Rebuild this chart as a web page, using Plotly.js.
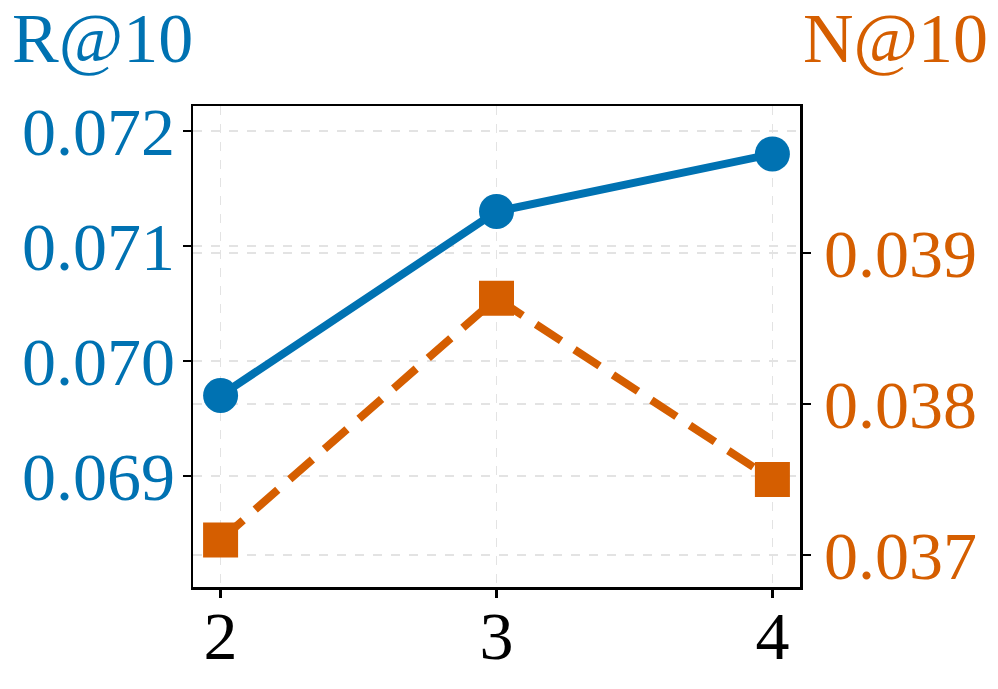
<!DOCTYPE html>
<html>
<head>
<meta charset="utf-8">
<script src="https://cdn.plot.ly/plotly-3.0.1.min.js"></script>
<style>
  html, body { margin: 0; padding: 0; background: #fff; }
  #chart { width: 998px; height: 689px; }
</style>
</head>
<body>
<div id="chart"></div>
<script>
// values
var xVals = [2, 3, 4];
var recallAt10 = [0.0697, 0.0713, 0.0718];
var ndcgAt10 = [0.03710, 0.03870, 0.03750];
var leftTicks = [0.069, 0.070, 0.071, 0.072];
var rightTicks = [0.037, 0.038, 0.039];

var blue = "#0072B2";
var orange = "#D55E00";
var serif = "Liberation Serif";

var traceR = {
    x: xVals,
    y: recallAt10,
    type: "scatter",
    mode: "lines+markers",
    name: "R@10",
    line: { color: blue, width: 8 },
    marker: { color: blue, size: 35, symbol: "circle" }
};

var traceN = {
    x: xVals,
    y: ndcgAt10,
    type: "scatter",
    mode: "lines+markers",
    name: "N@10",
    yaxis: "y2",
    line: { color: orange, width: 8, dash: "30px,16px" },
    marker: { color: orange, size: 35, symbol: "square" }
};

var gridStyle = { showgrid: true, gridcolor: "#e3e3e3", gridwidth: 1.5, griddash: "dash" };

var layout = {
    width: 998,
    height: 689,
    margin: { l: 193, r: 198, t: 106, b: 102 },
    paper_bgcolor: "#fff",
    plot_bgcolor: "#fff",
    showlegend: false,
    font: { family: serif, size: 68, color: "#000" },
    xaxis: Object.assign({
        range: [1.9, 4.1],
        tickvals: xVals,
        ticktext: xVals.map(String),
        showline: true, linecolor: "#000", linewidth: 2.5, mirror: true,
        ticks: "outside", ticklen: 8, tickwidth: 2.5, tickcolor: "#000",
        ticklabelstandoff: -20,
        zeroline: false,
        tickfont: { family: serif, size: 68, color: "#000" }
    }, gridStyle),
    yaxis: Object.assign({
        range: [0.068035, 0.072217],
        tickvals: leftTicks,
        ticktext: leftTicks.map(v => v.toFixed(3)),
        showline: true, linecolor: "#000", linewidth: 2.5,
        ticks: "outside", ticklen: 8, tickwidth: 2.5, tickcolor: "#000",
        ticklabelstandoff: -6,
        zeroline: false,
        tickfont: { family: serif, size: 68, color: blue }
    }, gridStyle),
    yaxis2: Object.assign({
        range: [0.036788, 0.039974],
        overlaying: "y",
        side: "right",
        tickvals: rightTicks,
        ticktext: rightTicks.map(v => v.toFixed(3)),
        showline: true, linecolor: "#000", linewidth: 2.5,
        ticks: "outside", ticklen: 8, tickwidth: 2.5, tickcolor: "#000",
        ticklabelstandoff: 0,
        zeroline: false,
        tickfont: { family: serif, size: 68, color: orange }
    }, gridStyle),
    annotations: [
        {
            text: "R@10", xref: "paper", yref: "paper",
            x: -0.3015, y: 1.14, xanchor: "left", yanchor: "middle",
            showarrow: false, font: { family: serif, size: 70, color: blue }
        },
        {
            text: "N@10", xref: "paper", yref: "paper",
            x: 1.313, y: 1.14, xanchor: "right", yanchor: "middle",
            showarrow: false, font: { family: serif, size: 70, color: orange }
        }
    ]
};

Plotly.newPlot("chart", [traceR, traceN], layout, { displayModeBar: false, staticPlot: true });
</script>
</body>
</html>
